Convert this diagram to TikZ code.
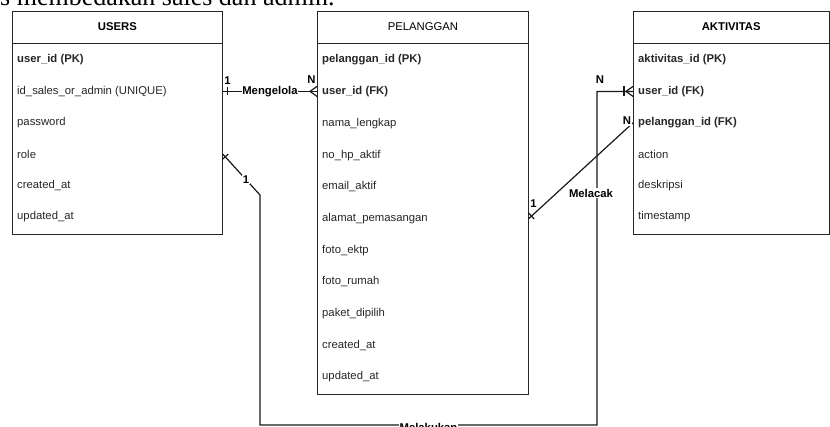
\documentclass[tikz,border=0pt]{standalone}
\usepackage{fontspec}
\setmainfont{Liberation Sans}
\newfontfamily\docserif{Liberation Serif}
\usetikzlibrary{positioning,calc}

\begin{document}
\begin{tikzpicture}[x=1pt,y=-1pt,font=\fontsize{11.3}{13}\selectfont,
  tbl/.style={draw=black!85,line width=0.9pt,inner sep=0pt,anchor=north west},
  hdr/.style={tbl,minimum height=32pt},
  row/.style={anchor=west,inner sep=0pt,text=black!85},
  key/.style={row,font=\fontsize{11.3}{13}\selectfont\bfseries},
  rel/.style={draw=black!90,line width=1.2pt},
  lbl/.style={fill=white,inner sep=0.8pt,font=\fontsize{11.3}{13}\selectfont\bfseries},
  card/.style={lbl}]
\clip (0,0) rectangle (830,426);
\node[anchor=base east,font=\docserif\fontsize{26}{30}\selectfont] (caption) at (338,5.5) {rs membedakan sales dan admin.};
% USERS
\node[tbl,minimum width=210pt,minimum height=223pt] (users) at (12,10.5) {};
\node[hdr,minimum width=210pt,font=\fontsize{11.3}{13}\selectfont\bfseries] (usershd) at (12,10.5) {USERS};
\node[key] (u1) at (17,60) {user\_id (PK)};
\foreach \t [count=\i from 2] in {id\_sales\_or\_admin (UNIQUE),password,role,created\_at,updated\_at}
  \node[row] (u\i) at (17,{60+31.4*(\i-1)}) {\t};
% PELANGGAN
\node[tbl,minimum width=211pt,minimum height=383.5pt] (pel) at (317,10.5) {};
\node[hdr,minimum width=211pt] (pelhd) at (317,10.5) {PELANGGAN};
\node[key] (p1) at (322,60) {pelanggan\_id (PK)};
\node[key] (p2) at (322,91.6) {user\_id (FK)};
\foreach \t [count=\i from 3] in {nama\_lengkap,no\_hp\_aktif,email\_aktif,alamat\_pemasangan,foto\_ektp,foto\_rumah,paket\_dipilih,created\_at,updated\_at}
  \node[row] (p\i) at (322,{60+31.7*(\i-1)}) {\t};
% AKTIVITAS
\node[tbl,minimum width=195.5pt,minimum height=223pt] (akt) at (633,10.5) {};
\node[hdr,minimum width=195.5pt,font=\fontsize{11.3}{13}\selectfont\bfseries] (akthd) at (633,10.5) {AKTIVITAS};
\node[key] (a1) at (638,60) {aktivitas\_id (PK)};
\node[key] (a2) at (638,91.4) {user\_id (FK)};
\node[key] (a3) at (638,122.8) {pelanggan\_id (FK)};
\foreach \t [count=\i from 4] in {action,deskripsi,timestamp}
  \node[row] (a\i) at (638,{60+31.4*(\i-1)}) {\t};

% relations
\coordinate (mgA) at (users.east |- u2);
\coordinate (mgB) at (pel.west |- u2);
\draw[rel] (mgA) -- node[lbl]{Mengelola} (mgB);
\draw[rel] ($(mgA)+(4.5,-4)$) -- ++(0,8);
\draw[rel] ($(mgB)+(-7,0)$) -- ++(7,-5) ($(mgB)+(-7,0)$) -- ++(7,5);
\node[card] (mg1) at (227.5,81) {1};
\node[card] (mgN) at (311.5,80) {N};

\coordinate (mkA) at (users.east |- u4);
\coordinate (mkB) at (260,195);
\coordinate (mkC) at (597,425);
\coordinate (mkD) at (akt.west |- a2);
\draw[rel] (mkA) -- node[card,pos=0.62]{1} (mkB) |- node[lbl,pos=0.75,yshift=-2pt]{Melakukan} (mkC) |- (mkD);
\draw[rel] ($(mkA)!3.5pt!(mkB)!4pt!90:(mkB)$) -- ($(mkA)!3.5pt!(mkB)!4pt!-90:(mkB)$);
\draw[rel] ($(mkD)+(-9,-5)$) -- ++(0,10);
\draw[rel] ($(mkD)+(-7,0)$) -- ++(7,-5) ($(mkD)+(-7,0)$) -- ++(7,5);
\node[card] (mkN) at (600,80) {N};

\coordinate (mlA) at (pel.east |- p6);
\coordinate (mlB) at (akt.west |- a3);
\draw[rel] (mlA) -- (mlB);
\draw[rel] ($(mlA)!3.5pt!(mlB)!4pt!90:(mlB)$) -- ($(mlA)!3.5pt!(mlB)!4pt!-90:(mlB)$);
\node[card] (ml1) at (533.5,204) {1};
\node[card] (mlN) at (627,121) {N};
\node[lbl] (mlname) at (591,193) {Melacak};
\end{tikzpicture}
\end{document}
